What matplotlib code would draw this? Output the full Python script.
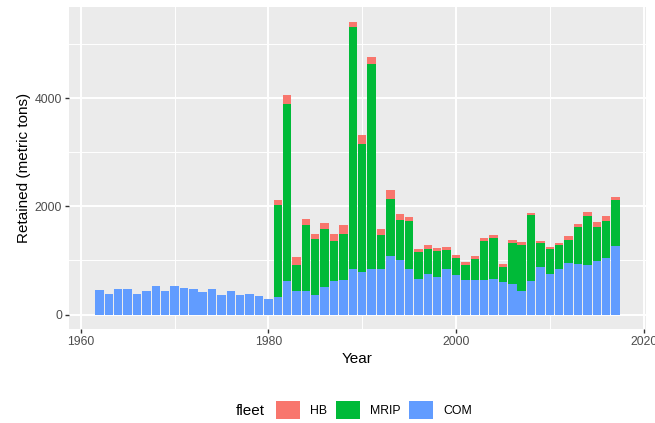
import matplotlib.pyplot as plt
import numpy as np

# retained catch by fleet, 1962-2017 (metric tons)
years = list(range(1962, 2018))

com = [452, 373, 465, 465, 373, 428, 531, 428, 531, 483,
       465, 410, 465, 354, 439, 354, 384, 347, 285,
       328, 618, 434, 434, 365, 502, 618, 637, 839, 790,
       839, 839, 1079, 1006, 839, 661, 753, 692, 839, 723,
       637, 631, 637, 661, 594, 557, 439, 618, 882, 753,
       852, 945, 926, 913, 987, 1048, 1269]

mrip = [0] * 19 + [
       1692, 3266, 479, 1217, 1028, 1075, 751, 848, 4471, 2369,
       3796, 628, 1052, 738, 886, 487, 455, 480, 357, 325,
       271, 393, 725, 756, 277, 768, 849, 1218, 443, 455,
       425, 442, 694, 910, 633, 677, 856]

hb = [0] * 19 + [
       105, 179, 148, 117, 105, 111, 129, 179, 100, 153,
       122, 123, 166, 123, 74, 60, 69, 55, 49, 50,
       55, 61, 55, 50, 61, 50, 55, 50, 37, 43,
       42, 61, 55, 74, 87, 92, 48]

fleets = ["HB", "MRIP", "COM"]
colors = {"HB": "#F8766D", "MRIP": "#00BA38", "COM": "#619CFF"}

plt.rcParams['font.family'] = ['Liberation Sans', 'DejaVu Sans']

fig = plt.figure(figsize=(6.55, 4.23), dpi=100)
ax = fig.add_axes([69 / 655, 1 - 329.3 / 423, (646 - 69) / 655, (329.3 - 7) / 423])
ax.set_facecolor("#EBEBEB")

com_a = np.array(com)
mrip_a = np.array(mrip)
hb_a = np.array(hb)

b_com = ax.bar(years, com_a, width=0.9, color=colors["COM"], zorder=3)
b_mrip = ax.bar(years, mrip_a, width=0.9, bottom=com_a, color=colors["MRIP"], zorder=3)
b_hb = ax.bar(years, hb_a, width=0.9, bottom=com_a + mrip_a, color=colors["HB"], zorder=3)

total = com_a + mrip_a + hb_a
ax.set_xlim(1961.55 - 0.05 * 55.9, 2017.45 + 0.05 * 55.9)
ax.set_ylim(-0.05 * total.max(), total.max() * 1.05)

ax.set_xticks([1960, 1980, 2000, 2020])
ax.set_xticks([1970, 1990, 2010], minor=True)
ax.set_yticks([0, 2000, 4000])
ax.set_yticks([1000, 3000, 5000], minor=True)

ax.grid(which="major", color="white", linewidth=1.42, zorder=0)
ax.grid(which="minor", color="white", linewidth=0.71, zorder=0)
ax.set_axisbelow(True)

for s in ax.spines.values():
    s.set_visible(False)

ax.tick_params(which="major", length=2.75, width=1.0, color="#333333",
               labelcolor="#4D4D4D", labelsize=8.8, pad=2.2)
ax.tick_params(which="minor", length=0)

ax.set_xlabel("Year", fontsize=11, labelpad=2.75)
ax.set_ylabel("Retained (metric tons)", fontsize=11, labelpad=2.75)

fig.text(236 / 655, 1 - 411 / 423, "fleet", fontsize=11, ha="left", va="center")
handles = [b_hb, b_mrip, b_com]
leg = fig.legend(handles, fleets, loc="center left",
                 bbox_to_anchor=(276 / 655, 1 - 410 / 423), ncol=3,
                 frameon=False, fontsize=8.8, handlelength=1.96, handleheight=1.96,
                 handletextpad=0.8, columnspacing=0.75, borderpad=0, borderaxespad=0)

fig.savefig("out.png", dpi=100)
